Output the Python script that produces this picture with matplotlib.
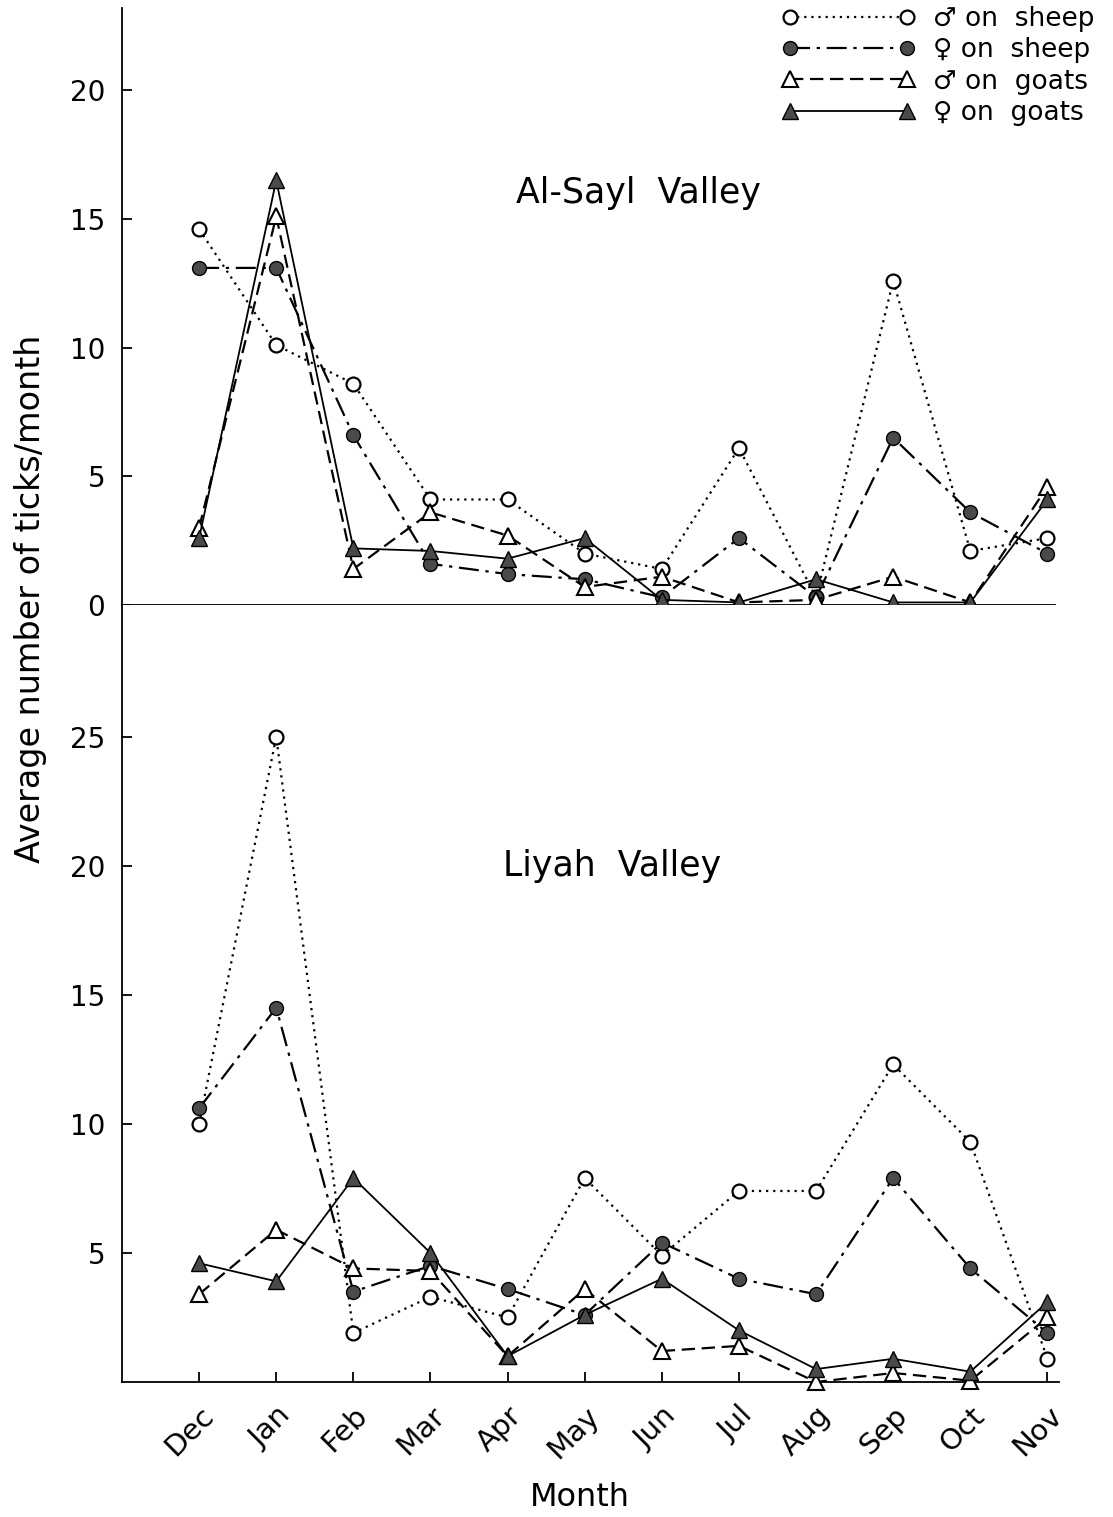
import matplotlib.pyplot as plt
import numpy as np
from matplotlib.lines import Line2D

plt.rcParams['font.family'] = ['DejaVu Sans']

# Данные
months = ['Dec', 'Jan', 'Feb', 'Mar', 'Apr', 'May', 'Jun', 'Jul', 'Aug', 'Sep', 'Oct', 'Nov']

sayl_male_sheep = [14.6, 10.1, 8.6, 4.1, 4.1, 2.0, 1.4, 6.1, 0.3, 12.6, 2.1, 2.6]
sayl_female_sheep = [13.1, 13.1, 6.6, 1.6, 1.2, 1.0, 0.3, 2.6, 0.3, 6.5, 3.6, 2.0]
sayl_male_goats = [3.0, 15.1, 1.4, 3.6, 2.7, 0.7, 1.1, 0.1, 0.2, 1.1, 0.1, 4.6]
sayl_female_goats = [2.6, 16.5, 2.2, 2.1, 1.8, 2.6, 0.2, 0.1, 1.0, 0.1, 0.1, 4.1]

liyah_male_sheep = [10.0, 25.0, 1.9, 3.3, 2.5, 7.9, 4.9, 7.4, 7.4, 12.3, 9.3, 0.9]
liyah_female_sheep = [10.6, 14.5, 3.5, 4.5, 3.6, 2.6, 5.4, 4.0, 3.4, 7.9, 4.4, 1.9]
liyah_male_goats = [3.4, 5.9, 4.4, 4.3, 1.0, 3.6, 1.2, 1.4, 0.0, 0.35, 0.05, 2.5]
liyah_female_goats = [4.6, 3.9, 7.9, 5.0, 1.0, 2.6, 4.0, 2.0, 0.5, 0.9, 0.4, 3.1]

labels = ['\u2642 on  sheep', '\u2640 on  sheep', '\u2642 on  goats', '\u2640 on  goats']

# стили серий
styles = [
    dict(ls=(0, (1, 2.2)), lw=1.6, marker='o', ms=10, mfc='white', mec='black', mew=1.6),
    dict(ls=(0, (9, 3, 1.5, 3)), lw=1.6, marker='o', ms=10, mfc='#4a4a4a', mec='black', mew=1.0),
    dict(ls=(0, (6, 3)), lw=1.6, marker='^', ms=12, mfc='white', mec='black', mew=1.5),
    dict(ls='-', lw=1.3, marker='^', ms=12, mfc='#4a4a4a', mec='black', mew=1.0),
]

x = np.arange(len(months))

fig = plt.figure(figsize=(11.13, 15.17), dpi=100)
left = 122 / 1113
width = 1 - left
ax_top = fig.add_axes([left, 1 - 605 / 1517, width, (605 - 8) / 1517])
ax_bot = fig.add_axes([left, 1 - 1382 / 1517, width, (1382 - 605) / 1517])

# Верхний график: Al-Sayl Valley
for ys, st in zip([sayl_male_sheep, sayl_female_sheep, sayl_male_goats, sayl_female_goats], styles):
    ax_top.plot(x, ys, color='black', clip_on=False, zorder=3, **st)
ax_top.set_xlim(-1, 11.85)
ax_top.set_ylim(0, 23.2)
ax_top.set_yticks([0, 5, 10, 15, 20])
ax_top.set_xticks([])
for s in ['top', 'right']:
    ax_top.spines[s].set_visible(False)
ax_top.spines['bottom'].set_bounds(-1, 11.1)
ax_top.spines['left'].set_linewidth(1.3)
ax_top.spines['bottom'].set_linewidth(1.3)
ax_top.tick_params(axis='y', direction='in', length=7, width=1.3, labelsize=20, pad=12)
ax_top.text(5.7, 16.0, 'Al-Sayl  Valley', fontsize=25, ha='center', va='center')

# Нижний график: Liyah Valley
for ys, st in zip([liyah_male_sheep, liyah_female_sheep, liyah_male_goats, liyah_female_goats], styles):
    ax_bot.plot(x, ys, color='black', clip_on=False, zorder=3, **st)
ax_bot.set_xlim(-1, 11.85)
ax_bot.set_ylim(0, 30.1)
ax_bot.set_yticks([5, 10, 15, 20, 25])
ax_bot.set_xticks(x)
ax_bot.set_xticklabels(months, rotation=45, ha='right', rotation_mode='anchor', fontsize=21)
for s in ['top', 'right']:
    ax_bot.spines[s].set_visible(False)
ax_bot.spines['bottom'].set_bounds(-1, 11.15)
ax_bot.spines['left'].set_linewidth(1.3)
ax_bot.spines['bottom'].set_linewidth(1.3)
ax_bot.tick_params(axis='both', direction='in', length=7, width=1.3, labelsize=20, pad=12)
ax_bot.tick_params(axis='x', labelsize=21, pad=14)
ax_bot.text(5.35, 20.0, 'Liyah  Valley', fontsize=25, ha='center', va='center')

fig.text(580 / 1113, 1 - 1497 / 1517, 'Month', fontsize=23, ha='center', va='center')
fig.text(0.027, 0.605, 'Average number of ticks/month', rotation=90, fontsize=24,
         ha='center', va='center')

# Легенда
handles = [Line2D([], [], color='black', **st) for st in styles]
fig.legend(handles, labels, loc='upper left', bbox_to_anchor=(772 / 1113, 1.003),
           frameon=False, numpoints=2, handlelength=5.0, fontsize=19,
           labelspacing=0.2, handletextpad=0.7, borderaxespad=0.0)

fig.savefig('out.png', dpi=100)
